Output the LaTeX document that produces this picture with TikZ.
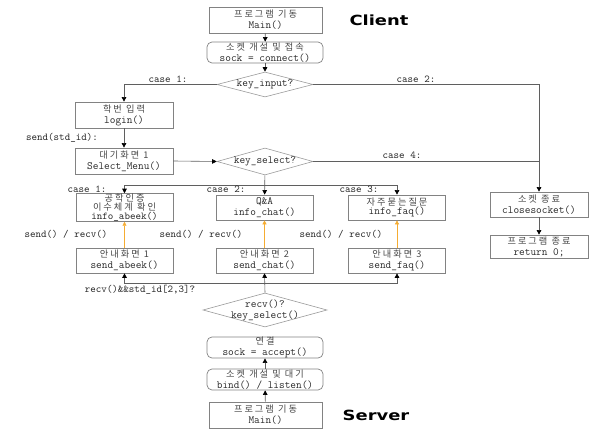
\documentclass[tikz,border=0pt]{standalone}
\usepackage{fontspec}
\usepackage{graphicx}
\newfontfamily\kr[LetterSpace=22]{Noto Sans CJK KR}
\newfontfamily\heading{DejaVu Sans}
\usetikzlibrary{arrows.meta,shapes.geometric}

\definecolor{boxgray}{RGB}{130,130,130}
\definecolor{linegray}{RGB}{95,95,95}
\definecolor{txt}{RGB}{40,40,40}
\definecolor{kotxt}{RGB}{70,70,70}
\definecolor{accent}{RGB}{245,172,50}

% Korean words inside the boxes
\newcommand\ko[1]{{\kr\fontsize{9.2}{9.2}\selectfont\color{kotxt}#1}}

\tikzset{
  base/.style={draw=boxgray, line width=0.7pt, align=center, inner sep=0pt,
    font=\ttfamily\fontsize{11}{11}\selectfont, text=txt},
  box/.style={base, rectangle},
  rbox/.style={base, rectangle, rounded corners=5pt},
  dia/.style={draw=boxgray!80, line width=0.6pt, diamond, inner sep=0pt},
  ttext/.style={align=center, inner sep=0pt, font=\ttfamily\fontsize{11}{11}\selectfont, text=txt},
  lbl/.style={inner sep=0pt, font=\ttfamily\fontsize{10.5}{10.5}\selectfont, text=txt},
  conn/.style={draw=linegray, line width=0.6pt},
  arr/.style={conn, -{Triangle[length=4.5pt,width=4.5pt,color=black]}},
  oarr/.style={draw=accent, line width=0.6pt, -{Triangle[length=4pt,width=4pt]}},
  title/.style={inner sep=0pt, font=\heading\bfseries\fontsize{14}{14}\selectfont}
}

\begin{document}
\begin{tikzpicture}[x=1pt, y=-1pt]
\useasboundingbox (0,0) rectangle (598,438);

% ---- client side ----
\node[box, minimum width=113, minimum height=26] (mainC) at (265.5,20) {\ko{프로그램 기동}\\Main()};
\node[rbox, minimum width=116, minimum height=21] (sockC) at (265,52.5) {\ko{소켓 개설 및 접속}\\sock = connect()};
\node[dia, minimum width=96, minimum height=25] (keyin) at (265,84.5) {};
\node[ttext] at (keyin) {key\_input?};

\node[box, minimum width=98, minimum height=26] (login) at (124,115) {\ko{학번 입력}\\login()};
\node[box, minimum width=98, minimum height=26] (menu) at (124,161) {\ko{대기화면 1}\\Select\_Menu()};
\node[dia, minimum width=96, minimum height=27] (keysel) at (265,161.5) {};
\node[ttext] at (keysel) {key\_select?};

\node[box, minimum width=97, minimum height=25, font=\ttfamily\fontsize{10.5}{7.6}\selectfont] (abeek) at (124.5,207.5) {\ko{공학인증}\\\ko{이수체계 확인}\\info\_abeek()};
\node[box, minimum width=97, minimum height=25] (chat) at (264.5,207.5) {Q\&A\\info\_chat()};
\node[box, minimum width=97, minimum height=25, font=\ttfamily\fontsize{11}{9.5}\selectfont] (faq) at (397,207.5) {\ko{자주묻는질문}\\info\_faq()};

\node[box, minimum width=97, minimum height=25] (sabeek) at (124.5,260.5) {\ko{안내화면 1}\\send\_abeek()};
\node[box, minimum width=97, minimum height=25] (schat) at (264.5,260.5) {\ko{안내화면 2}\\send\_chat()};
\node[box, minimum width=97, minimum height=25] (sfaq) at (397,260.5) {\ko{안내화면 3}\\send\_faq()};

\node[box, minimum width=98, minimum height=25] (close) at (539,204.5) {\ko{소켓 종료}\\closesocket()};
\node[box, minimum width=98, minimum height=23] (ret) at (539,246.5) {\ko{프로그램 종료}\\return 0;};

% ---- server side ----
\node[dia, minimum width=124, minimum height=34] (recvd) at (265,310) {};
\node[ttext] at (recvd) {recv()?\\key\_select()};
\node[rbox, minimum width=116, minimum height=21] (accept) at (265,347.5) {\ko{연결}\\sock = accept()};
\node[rbox, minimum width=116, minimum height=21] (listen) at (265,379.5) {\ko{소켓 개설 및 대기}\\bind() / listen()};
\node[box, minimum width=113, minimum height=26] (mainS) at (265.5,415) {\ko{프로그램 기동}\\Main()};

% ---- titles ----
\node[title] (client) at (379,20) {\scalebox{1.28}[1]{Client}};
\node[title] (server) at (376,415) {\scalebox{1.28}[1]{Server}};

% ---- client flow ----
\draw[arr] (mainC) -- (sockC);
\draw[arr] (sockC) -- (keyin);
\draw[arr] (keyin.west) -| (login.north);
\draw[arr] (keyin.east) -| (close.north);
\draw[arr] (login) -- (menu);
\draw[arr] (menu.east) -- (keysel.west);
\draw[conn] (keysel.east) -- (keysel.east -| close.north);
\draw[arr] (keysel) -- (chat);
\coordinate (split) at (265,185);
\draw[arr] (split) -| (abeek.north);
\draw[arr] (split) -| (faq.north);
\draw[arr] (close) -- (ret);

\draw[oarr] (sabeek) -- (abeek);
\draw[oarr] (schat) -- (chat);
\draw[oarr] (sfaq) -- (faq);

% ---- server flow ----
\draw[arr] (recvd.north) -- (schat.south);
\coordinate (join) at (265,283);
\draw[arr] (join) -| (sabeek.south);
\draw[arr] (join) -| (sfaq.south);
\draw[arr] (mainS) -- (listen);
\draw[arr] (listen) -- (accept);

% ---- edge labels ----
\node[lbl] at (168,79) {case 1:};
\node[lbl] at (416,79) {case 2:};
\node[lbl] at (62,138) {send(std\_id):};
\node[lbl] at (402,155) {case 4:};
\node[lbl] at (87,189) {case 1:};
\node[lbl] at (226,189) {case 2:};
\node[lbl] at (359,189) {case 3:};
\node[lbl] at (66,234) {send() / recv()};
\node[lbl] at (201,234) {send() / recv()};
\node[lbl] at (341,234) {send() / recv()};
\node[lbl] at (140,290) {recv()\&\&std\_id[2,3]?};
\end{tikzpicture}
\end{document}
